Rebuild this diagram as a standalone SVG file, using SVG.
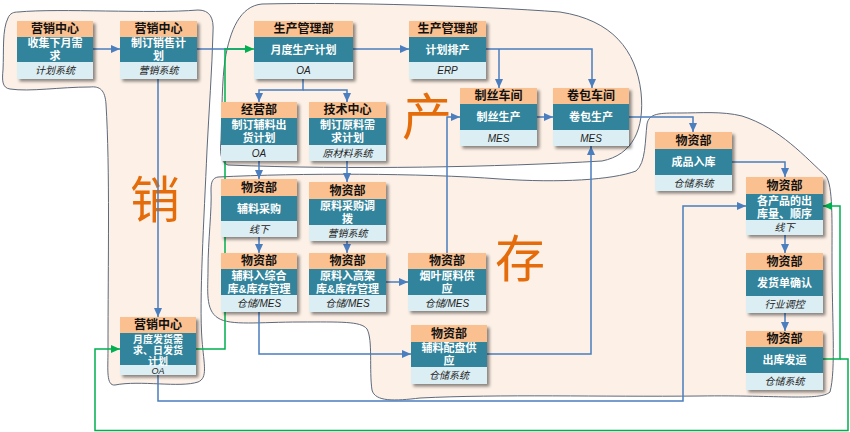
<svg xmlns="http://www.w3.org/2000/svg" width="850" height="432" viewBox="0 0 850 432">
  <defs>
    <filter id="shadow" x="-10%" y="-10%" width="130%" height="130%">
      <feDropShadow dx="2.5" dy="2.5" stdDeviation="1.4" flood-color="#000" flood-opacity="0.45"/>
    </filter>
    <marker id="arrowBlue" markerUnits="userSpaceOnUse" markerWidth="9" markerHeight="8" refX="9" refY="4" orient="auto">
      <path d="M0,0 L9,4 L0,8 Z" fill="#4A7EBF"/>
    </marker>
    <marker id="arrowGreen" markerUnits="userSpaceOnUse" markerWidth="9" markerHeight="8" refX="9" refY="4" orient="auto">
      <path d="M0,0 L9,4 L0,8 Z" fill="#00B050"/>
    </marker>
  </defs>
  <style>
    text { font-family: "Liberation Sans", "Noto Sans CJK SC", sans-serif; text-anchor: middle; dominant-baseline: central; }
    .blob { fill: #FDF0E6; stroke: #5E6A7C; stroke-width: 1; }
    .big { font-size: 50px; fill: #E46C0A; }
    .sh { fill: #FFFFFF; filter: url(#shadow); }
    .hd { fill: #FAC08F; }
    .bd { fill: #31849B; }
    .ft { fill: #DBEEF4; }
    .ht { font-size: 12px; font-weight: bold; fill: #111; }
    .bt { font-size: 11px; font-weight: bold; fill: #FFFFFF; }
    .fx { font-size: 10px; font-style: italic; fill: #222; }
    .cb { fill: none; stroke: #4A7EBF; stroke-width: 1.5; }
    .cg { fill: none; stroke: #00B050; stroke-width: 1.5; }
    .ab { marker-end: url(#arrowBlue); }
    .ag { marker-end: url(#arrowGreen); }
  </style>

  <rect width="850" height="432" fill="#FFFFFF"/>

  <!-- swim areas -->
  <g id="areas">
    <path id="area-sales" class="blob" d="M18,12 C60,8 150,14 198,10 C210,10 214,18 213,32 C212,70 209,110 207,150 C204,220 199,300 202,340 C204,365 208,378 198,382 C180,388 140,380 115,385 C106,386 108,370 108,350 C108,260 110,170 106,104 C105,90 100,86 90,87 C60,87 30,92 10,89 C2,88 2,80 3,70 C4,50 2,30 8,18 C10,13 14,12 18,12 Z"/>
    <path id="area-production" class="blob" d="M262,4 C350,2 480,6 560,12 C612,20 636,50 641,92 C645,130 632,155 602,161 C500,167 350,170 228,165 C220,163 220,150 221,140 C222,110 222,80 225,60 C230,30 240,6 262,4 Z"/>
    <path id="area-storage" class="blob" d="M218,177 C300,173 420,173 500,179 C560,183 612,180 636,171 C646,163 645,140 647,124 C649,113 660,113 680,113 C700,113 722,111 742,116 C780,128 806,158 826,176 C833,186 832,220 832,260 C832,320 836,370 830,392 C820,401 780,395 700,396 C600,397 500,394 420,398 C395,401 375,402 372,390 C369,370 373,340 367,329 C361,321 340,322 300,322 C260,322 230,326 218,318 C205,310 208,290 208,270 C208,240 212,210 211,190 C211,181 213,178 218,177 Z"/>
  </g>

  <g id="area-labels">
    <text class="big" x="155" y="201">销</text>
    <text class="big" x="427" y="118">产</text>
    <text class="big" x="520" y="260">存</text>
  </g>

  <!-- connectors -->
  <g id="connectors">
    <path class="cb ab" d="M93,49 H120"/>
    <path class="cb" d="M197,49 H250"/>
    <path class="cb ab" d="M158,79 V317"/>
    <path class="cb ab" d="M353,49 H409"/>
    <path class="cb ab" d="M303,79 V90 H259 V102"/>
    <path class="cb ab" d="M303,90 H347 V102"/>
    <path class="cb ab" d="M486,49 H592 V88"/>
    <path class="cb ab" d="M499,49 V88"/>
    <path class="cb ab" d="M537,117 H553"/>
    <path class="cb ab" d="M447,253 V117 H460"/>
    <path class="cb ab" d="M629,117 H693 V132"/>
    <path class="cb ab" d="M732,162 H785 V177"/>
    <path class="cb ab" d="M785,235 V253"/>
    <path class="cb ab" d="M785,313 V331"/>
    <path class="cb ab" d="M158,375 V401 H683 V206 H746"/>
    <path class="cb ab" d="M259,161 V179"/>
    <path class="cb ab" d="M347,161 V182"/>
    <path class="cb ab" d="M259,237 V253"/>
    <path class="cb ab" d="M347,241 V253"/>
    <path class="cb ab" d="M386,282 H408"/>
    <path class="cb ab" d="M259,312 V354 H411"/>
    <path class="cb ab" d="M487,354 H591 V146"/>
    <path class="cg ag" d="M196,349 H225 V49 H254"/>
    <path class="cg ag" d="M823,359 H840 V206 H823"/>
    <path class="cg ag" d="M840,359 H848 V430.5 H95 V349 H120"/>
  </g>

  <!-- nodes -->
  <g id="n1" transform="translate(17,21)">
    <rect class="sh" width="76" height="58"/>
    <rect class="hd" width="76" height="16"/>
    <rect class="bd" y="16" width="76" height="25"/>
    <rect class="ft" y="41" width="76" height="17"/>
    <text class="ht" x="38" y="8">营销中心</text>
    <text class="bt"><tspan x="38" y="22">收集下月需</tspan><tspan x="38" y="35">求</tspan></text>
    <text class="fx" x="38" y="49.5">计划系统</text>
  </g>
  <g id="n2" transform="translate(120,21)">
    <rect class="sh" width="77" height="58"/>
    <rect class="hd" width="77" height="16"/>
    <rect class="bd" y="16" width="77" height="25"/>
    <rect class="ft" y="41" width="77" height="17"/>
    <text class="ht" x="38.5" y="8">营销中心</text>
    <text class="bt"><tspan x="38.5" y="22">制订销售计</tspan><tspan x="38.5" y="35">划</tspan></text>
    <text class="fx" x="38.5" y="49.5">营销系统</text>
  </g>
  <g id="n3" transform="translate(254,21)">
    <rect class="sh" width="99" height="58"/>
    <rect class="hd" width="99" height="16"/>
    <rect class="bd" y="16" width="99" height="25"/>
    <rect class="ft" y="41" width="99" height="17"/>
    <text class="ht" x="49.5" y="8">生产管理部</text>
    <text class="bt" x="49.5" y="28.5">月度生产计划</text>
    <text class="fx" x="49.5" y="49.5">OA</text>
  </g>
  <g id="n4" transform="translate(409,21)">
    <rect class="sh" width="77" height="58"/>
    <rect class="hd" width="77" height="16"/>
    <rect class="bd" y="16" width="77" height="25"/>
    <rect class="ft" y="41" width="77" height="17"/>
    <text class="ht" x="38.5" y="8">生产管理部</text>
    <text class="bt" x="38.5" y="28.5">计划排产</text>
    <text class="fx" x="38.5" y="49.5">ERP</text>
  </g>
  <g id="n5" transform="translate(221,102)">
    <rect class="sh" width="76" height="59"/>
    <rect class="hd" width="76" height="16"/>
    <rect class="bd" y="16" width="76" height="27"/>
    <rect class="ft" y="43" width="76" height="16"/>
    <text class="ht" x="38" y="8">经营部</text>
    <text class="bt"><tspan x="38" y="23">制订辅料出</tspan><tspan x="38" y="36">货计划</tspan></text>
    <text class="fx" x="38" y="51">OA</text>
  </g>
  <g id="n6" transform="translate(309,102)">
    <rect class="sh" width="77" height="59"/>
    <rect class="hd" width="77" height="16"/>
    <rect class="bd" y="16" width="77" height="27"/>
    <rect class="ft" y="43" width="77" height="16"/>
    <text class="ht" x="38.5" y="8">技术中心</text>
    <text class="bt"><tspan x="38.5" y="23">制订原料需</tspan><tspan x="38.5" y="36">求计划</tspan></text>
    <text class="fx" x="38.5" y="51">原材料系统</text>
  </g>
  <g id="n7" transform="translate(460,88)">
    <rect class="sh" width="77" height="58"/>
    <rect class="hd" width="77" height="16"/>
    <rect class="bd" y="16" width="77" height="26"/>
    <rect class="ft" y="42" width="77" height="16"/>
    <text class="ht" x="38.5" y="8">制丝车间</text>
    <text class="bt" x="38.5" y="29">制丝生产</text>
    <text class="fx" x="38.5" y="50">MES</text>
  </g>
  <g id="n8" transform="translate(553,88)">
    <rect class="sh" width="76" height="58"/>
    <rect class="hd" width="76" height="16"/>
    <rect class="bd" y="16" width="76" height="26"/>
    <rect class="ft" y="42" width="76" height="16"/>
    <text class="ht" x="38" y="8">卷包车间</text>
    <text class="bt" x="38" y="29">卷包生产</text>
    <text class="fx" x="38" y="50">MES</text>
  </g>
  <g id="n9" transform="translate(655,132)">
    <rect class="sh" width="77" height="59"/>
    <rect class="hd" width="77" height="17"/>
    <rect class="bd" y="17" width="77" height="26"/>
    <rect class="ft" y="43" width="77" height="16"/>
    <text class="ht" x="38.5" y="8.5">物资部</text>
    <text class="bt" x="38.5" y="30">成品入库</text>
    <text class="fx" x="38.5" y="51">仓储系统</text>
  </g>
  <g id="n10" transform="translate(746,177)">
    <rect class="sh" width="77" height="58"/>
    <rect class="hd" width="77" height="17"/>
    <rect class="bd" y="17" width="77" height="26"/>
    <rect class="ft" y="43" width="77" height="15"/>
    <text class="ht" x="38.5" y="8.5">物资部</text>
    <text class="bt"><tspan x="38.5" y="23.5">各产品的出</tspan><tspan x="38.5" y="36.5">库量、顺序</tspan></text>
    <text class="fx" x="38.5" y="50.5">线下</text>
  </g>
  <g id="n11" transform="translate(746,253)">
    <rect class="sh" width="77" height="60"/>
    <rect class="hd" width="77" height="17"/>
    <rect class="bd" y="17" width="77" height="26"/>
    <rect class="ft" y="43" width="77" height="17"/>
    <text class="ht" x="38.5" y="8.5">物资部</text>
    <text class="bt" x="38.5" y="30">发货单确认</text>
    <text class="fx" x="38.5" y="51.5">行业调控</text>
  </g>
  <g id="n12" transform="translate(746,331)">
    <rect class="sh" width="77" height="59"/>
    <rect class="hd" width="77" height="16"/>
    <rect class="bd" y="16" width="77" height="26"/>
    <rect class="ft" y="42" width="77" height="17"/>
    <text class="ht" x="38.5" y="8">物资部</text>
    <text class="bt" x="38.5" y="29">出库发运</text>
    <text class="fx" x="38.5" y="50.5">仓储系统</text>
  </g>
  <g id="n13" transform="translate(221,179)">
    <rect class="sh" width="76" height="58"/>
    <rect class="hd" width="76" height="17"/>
    <rect class="bd" y="17" width="76" height="25"/>
    <rect class="ft" y="42" width="76" height="16"/>
    <text class="ht" x="38" y="8.5">物资部</text>
    <text class="bt" x="38" y="29.5">辅料采购</text>
    <text class="fx" x="38" y="50">线下</text>
  </g>
  <g id="n14" transform="translate(309,182)">
    <rect class="sh" width="77" height="59"/>
    <rect class="hd" width="77" height="17"/>
    <rect class="bd" y="17" width="77" height="26"/>
    <rect class="ft" y="43" width="77" height="16"/>
    <text class="ht" x="38.5" y="8.5">物资部</text>
    <text class="bt"><tspan x="38.5" y="23.5">原料采购调</tspan><tspan x="38.5" y="36.5">拨</tspan></text>
    <text class="fx" x="38.5" y="51">营销系统</text>
  </g>
  <g id="n15" transform="translate(221,253)">
    <rect class="sh" width="76" height="59"/>
    <rect class="hd" width="76" height="16"/>
    <rect class="bd" y="16" width="76" height="26"/>
    <rect class="ft" y="42" width="76" height="17"/>
    <text class="ht" x="38" y="8">物资部</text>
    <text class="bt"><tspan x="38" y="22.5">辅料入综合</tspan><tspan x="38" y="35.5">库&amp;库存管理</tspan></text>
    <text class="fx" x="38" y="50.5">仓储/MES</text>
  </g>
  <g id="n16" transform="translate(309,253)">
    <rect class="sh" width="77" height="59"/>
    <rect class="hd" width="77" height="16"/>
    <rect class="bd" y="16" width="77" height="26"/>
    <rect class="ft" y="42" width="77" height="17"/>
    <text class="ht" x="38.5" y="8">物资部</text>
    <text class="bt"><tspan x="38.5" y="22.5">原料入高架</tspan><tspan x="38.5" y="35.5">库&amp;库存管理</tspan></text>
    <text class="fx" x="38.5" y="50.5">仓储/MES</text>
  </g>
  <g id="n17" transform="translate(408,253)">
    <rect class="sh" width="78" height="58"/>
    <rect class="hd" width="78" height="16"/>
    <rect class="bd" y="16" width="78" height="26"/>
    <rect class="ft" y="42" width="78" height="16"/>
    <text class="ht" x="39" y="8">物资部</text>
    <text class="bt"><tspan x="39" y="22.5">烟叶原料供</tspan><tspan x="39" y="35.5">应</tspan></text>
    <text class="fx" x="39" y="50">仓储/MES</text>
  </g>
  <g id="n18" transform="translate(411,325)">
    <rect class="sh" width="76" height="59"/>
    <rect class="hd" width="76" height="17"/>
    <rect class="bd" y="17" width="76" height="25"/>
    <rect class="ft" y="42" width="76" height="17"/>
    <text class="ht" x="38" y="8.5">物资部</text>
    <text class="bt"><tspan x="38" y="23">辅料配盘供</tspan><tspan x="38" y="36">应</tspan></text>
    <text class="fx" x="38" y="50.5">仓储系统</text>
  </g>
  <g id="n19" transform="translate(120,317)">
    <rect class="sh" width="76" height="58"/>
    <rect class="hd" width="76" height="16"/>
    <rect class="bd" y="16" width="76" height="32"/>
    <rect class="ft" y="48" width="76" height="10"/>
    <text class="ht" x="38" y="8">营销中心</text>
    <text class="bt" style="font-size:10px"><tspan x="38" y="21.5">月度发货需</tspan><tspan x="38" y="32.5">求、日发货</tspan><tspan x="38" y="43.5">计划</tspan></text>
    <text class="fx" x="38" y="54" style="font-size:9px">OA</text>
  </g>
</svg>
